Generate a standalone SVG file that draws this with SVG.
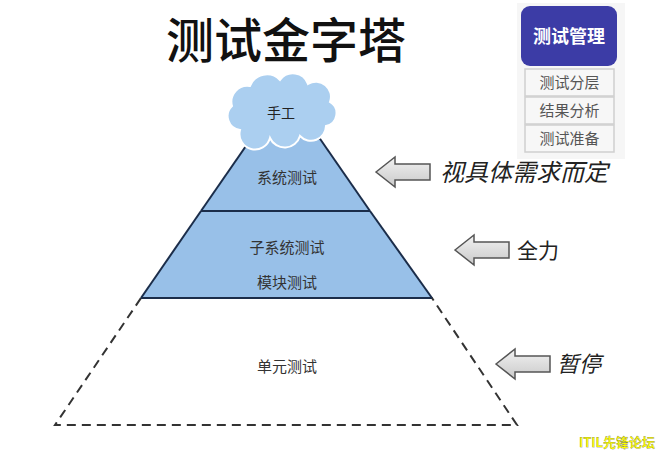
<svg xmlns="http://www.w3.org/2000/svg" width="662" height="454" viewBox="0 0 662 454">
<defs>
<style>
.t{font-family:"Noto Sans CJK SC","Liberation Sans",sans-serif;text-anchor:middle}
.lbl{font-size:15px;fill:#333}
.side{font-size:15px;fill:#555}
.edge{stroke:#1b2d4a;stroke-width:2;fill:none}
.arrow{fill:url(#ag);stroke:#555;stroke-width:1.5}
</style>
<linearGradient id="ag" x1="0" y1="0" x2="0" y2="1">
<stop offset="0" stop-color="#f2f2f2"/>
<stop offset="1" stop-color="#c9c9c9"/>
</linearGradient>
<polygon id="arr" points="0,0 19,-15 19,-8 54,-8 54,8 19,8 19,15"/>
</defs>
<rect width="662" height="454" fill="#ffffff"/>

<text class="t" x="286" y="58" font-size="48" font-weight="500" fill="#111">测试金字塔</text>

<g id="panel">
<rect x="517" y="3" width="108" height="156" fill="#f6f6f6"/>
</g>
<g id="mgmt">
<rect x="521" y="6" width="96" height="60" rx="9" fill="#3c3ca6"/>
<text class="t" x="569" y="43" font-size="18" font-weight="bold" fill="#ffffff">测试管理</text>
</g>
<g id="layer">
<rect x="525" y="69" width="89" height="27" fill="#f7f7f7" stroke="#cfcfcf" stroke-width="1.5"/>
<text class="t side" x="569.5" y="88">测试分层</text>
</g>
<g id="analysis">
<rect x="525" y="97" width="89" height="27" fill="#f7f7f7" stroke="#cfcfcf" stroke-width="1.5"/>
<text class="t side" x="569.5" y="116">结果分析</text>
</g>
<g id="prep">
<rect x="525" y="125" width="89" height="27" fill="#f7f7f7" stroke="#cfcfcf" stroke-width="1.5"/>
<text class="t side" x="569.5" y="144">测试准备</text>
</g>

<g id="unit">
<polygon points="141,298 432,298 517,425 55,425" fill="#ffffff" stroke="#333" stroke-width="2" stroke-dasharray="9,6"/>
<text class="t lbl" x="287" y="372" fill="#555">单元测试</text>
</g>
<g id="subsystem">
<polygon points="201,211 370,211 432,298 141,298" fill="#98c0e8"/>
<line class="edge" x1="201" y1="211" x2="141" y2="298"/>
<line class="edge" x1="370" y1="211" x2="432" y2="298"/>
<line class="edge" x1="141" y1="298" x2="432" y2="298"/>
<text class="t lbl" x="287" y="253">子系统测试</text>
<text class="t lbl" x="287" y="288">模块测试</text>
</g>
<g id="system">
<polygon points="285.5,89 370,211 201,211" fill="#98c0e8"/>
<line class="edge" x1="285.5" y1="89" x2="201" y2="211"/>
<line class="edge" x1="285.5" y1="89" x2="370" y2="211"/>
<line class="edge" x1="201" y1="211" x2="370" y2="211"/>
<text class="t lbl" x="287" y="183">系统测试</text>
</g>
<g id="manual">
<path d="M240 130 a14 14 0 0 1 -8 -24 a16 16 0 0 1 18 -20 a18 18 0 0 1 30 -6 a16 16 0 0 1 28 4 a15 15 0 0 1 22 18 a13 13 0 0 1 -4 24 a15 15 0 0 1 -26 10 a16 16 0 0 1 -30 2 a15 15 0 0 1 -30 -8 Z" fill="#abcff0" stroke="#ffffff" stroke-width="2"/>
<text class="t" x="281" y="118" font-size="14" fill="#222">手工</text>
</g>

<g id="connectors">
<use href="#arr" class="arrow" transform="translate(376,172)"/>
<use href="#arr" class="arrow" transform="translate(455,250)"/>
<use href="#arr" class="arrow" transform="translate(496,364)"/>
</g>

<g id="notes">
<text class="t" x="524" y="181" font-size="24" font-style="italic" fill="#222">视具体需求而定</text>
<text class="t" x="538" y="258" font-size="21" fill="#222">全力</text>
<text class="t" x="579" y="372" font-size="22" font-style="italic" fill="#222">暂停</text>
</g>

<text class="t" x="617" y="447" font-size="13" font-weight="bold" fill="#ffff00" stroke="#555" stroke-width="0.25">ITIL先锋论坛</text>
</svg>
